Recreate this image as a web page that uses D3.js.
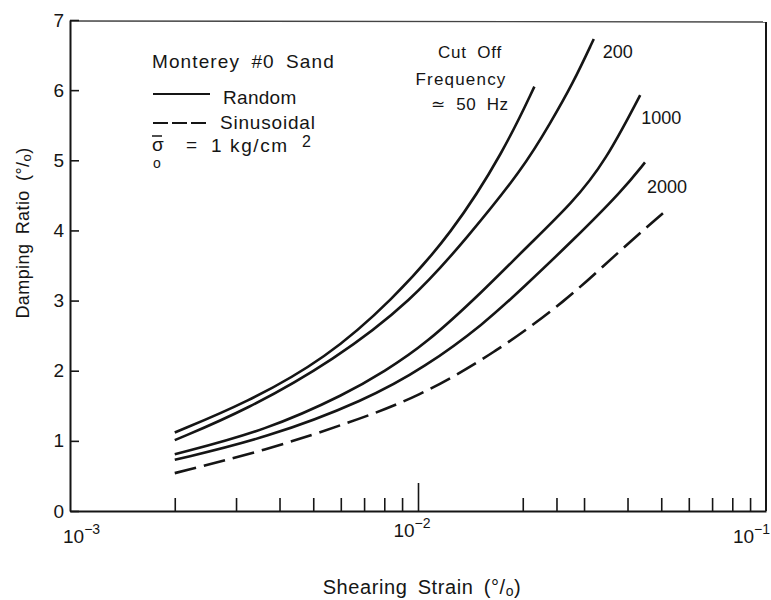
<!DOCTYPE html>
<html><head><meta charset="utf-8">
<script src="https://cdn.jsdelivr.net/npm/d3@7"></script>
<style>
body{margin:0;background:#fff}
text{font-family:"Liberation Sans",Arial,sans-serif;fill:#151515}
</style>
</head><body>
<svg id="c" width="771" height="600"></svg>
<script>
// ---------- data ----------
const xMajorTicks = [1e-3, 1e-2, 1e-1];
const xMajorExponents = ["−3", "−2", "−1"];
const xMinorTicks = [2e-3,3e-3,4e-3,5e-3,6e-3,7e-3,8e-3,9e-3,2e-2,2.5e-2,3e-2,4e-2,5e-2,6e-2,7e-2,8e-2,9e-2];
const yTicks = [0,1,2,3,4,5,6,7];

const curveLabels = ["50", "200", "1000", "2000", "Sinusoidal"];
// cut-off 50 Hz (random)
const strain50   = [0.002, 0.00321, 0.00546, 0.0084, 0.0125, 0.0177, 0.0216];
const damping50  = [1.12, 1.54, 2.18, 3.00, 3.95, 5.14, 6.05];
// cut-off 200 Hz (random)
const strain200  = [0.002, 0.00321, 0.00574, 0.00962, 0.01387, 0.0201, 0.0240, 0.0279, 0.0320];
const damping200 = [1.01, 1.44, 2.15, 3.00, 3.90, 4.89, 5.53, 6.10, 6.73];
// cut-off 1000 Hz (random)
const strain1000 = [0.002, 0.00367, 0.00627, 0.0080, 0.01047, 0.0155, 0.0201, 0.0279, 0.0346, 0.0435];
const damping1000= [0.81, 1.15, 1.68, 1.99, 2.37, 3.15, 3.72, 4.40, 4.99, 5.93];
// cut-off 2000 Hz (random)
const strain2000 = [0.002, 0.00367, 0.00708, 0.01047, 0.0155, 0.0201, 0.0279, 0.0387, 0.0449];
const damping2000= [0.73, 1.04, 1.58, 2.05, 2.67, 3.19, 3.86, 4.57, 4.97];
// sinusoidal
const strainSin  = [0.002, 0.00367, 0.00627, 0.0100, 0.0166, 0.0267, 0.0370, 0.0507];
const dampingSin = [0.54, 0.87, 1.25, 1.62, 2.25, 3.00, 3.66, 4.25];

// ---------- layout ----------
const svg = d3.select("#c");
const x = d3.scaleLog().domain([1e-3, 1e-1]).range([70, 766]);
const y = d3.scaleLinear().domain([0, 7]).range([511, 20]);
const ink = "#151515";

// frame: top and right
svg.append("line").attr("x1", x(1e-3)).attr("x2", x(1e-1)).attr("y1", y(7)+1).attr("y2", y(7)+2)
  .attr("stroke", "#444").attr("stroke-width", 1.3);
svg.append("line").attr("x1", x(1e-1)).attr("x2", x(1e-1)).attr("y1", y(7)+2).attr("y2", y(0))
  .attr("stroke", ink).attr("stroke-width", 2);

// y axis
const gy = svg.append("g").attr("transform", `translate(${x(1e-3)},0)`)
  .call(d3.axisLeft(y).tickValues(yTicks).tickSizeInner(-9).tickSizeOuter(0).tickPadding(6).tickFormat(d3.format("d")));
gy.select(".domain").attr("stroke", ink).attr("stroke-width", 2);
gy.selectAll(".tick line").attr("stroke", ink).attr("stroke-width", 1.6);
gy.selectAll(".tick text").attr("font-size", 19).attr("font-family", "Liberation Sans, Arial, sans-serif").attr("fill", ink);

// x axis minor
const gx = svg.append("g").attr("transform", `translate(0,${y(0)})`)
  .call(d3.axisBottom(x).tickValues(xMinorTicks).tickSizeInner(-13).tickSizeOuter(0).tickFormat(""));
gx.select(".domain").attr("stroke", ink).attr("stroke-width", 2);
gx.selectAll(".tick line").attr("stroke", ink).attr("stroke-width", 1.6);
// x axis major
const gx2 = svg.append("g").attr("transform", `translate(0,${y(0)})`)
  .call(d3.axisBottom(x).tickValues([1e-2]).tickSizeInner(-28).tickSizeOuter(0).tickFormat(""));
gx2.select(".domain").remove();
gx2.selectAll(".tick line").attr("stroke", ink).attr("stroke-width", 1.6);

// x major labels
xMajorTicks.forEach((v, i) => {
  const anchor = i === 0 ? "start" : (i === xMajorTicks.length - 1 ? "end" : "middle");
  const dx = i === 0 ? -7 : (i === xMajorTicks.length - 1 ? 4 : -6);
  const t = svg.append("text").attr("x", x(v) + dx).attr("y", i === 1 ? 537 : 543)
    .attr("text-anchor", anchor).attr("font-size", 19);
  t.append("tspan").text("10");
  t.append("tspan").attr("dy", -9).attr("font-size", 14).text(xMajorExponents[i]);
});

// axis titles
const xt = svg.append("text").attr("x", 422).attr("y", 594).attr("text-anchor", "middle")
  .attr("font-size", 20).attr("letter-spacing", 0.6).attr("word-spacing", 4);
xt.append("tspan").text("Shearing Strain  (°/");
xt.append("tspan").attr("font-size", 14).attr("dy", 2).text("o");
xt.append("tspan").attr("dy", -2).text(")");

const yt = svg.append("text").attr("transform", "translate(29,233) rotate(-90)").attr("text-anchor", "middle")
  .attr("font-size", 18).attr("letter-spacing", 0.4).attr("word-spacing", 4);
yt.append("tspan").text("Damping Ratio  (°/");
yt.append("tspan").attr("font-size", 13).attr("dy", 2).text("o");
yt.append("tspan").attr("dy", -2).text(")");

// curves
const series = [
  {name: curveLabels[0], s: strain50,   d: damping50,   dash: null},
  {name: curveLabels[1], s: strain200,  d: damping200,  dash: null},
  {name: curveLabels[2], s: strain1000, d: damping1000, dash: null},
  {name: curveLabels[3], s: strain2000, d: damping2000, dash: null},
  {name: curveLabels[4], s: strainSin,  d: dampingSin,  dash: "22,8"}
];
const line = d3.line().x(p => x(p[0])).y(p => y(p[1])).curve(d3.curveBasis);
series.forEach(sr => {
  const pts = sr.s.map((v, i) => [v, sr.d[i]]);
  svg.append("path").attr("d", line(pts)).attr("fill", "none").attr("stroke", ink)
    .attr("stroke-width", 2.6).attr("stroke-linecap", "butt")
    .attr("stroke-dasharray", sr.dash);
});

// curve labels at ends
const labelOffsets = {"200": [9, 19], "1000": [1, 29], "2000": [2, 31]};
series.slice(1, 4).forEach(sr => {
  const n = sr.s.length - 1;
  const off = labelOffsets[sr.name];
  svg.append("text").attr("x", x(sr.s[n]) + off[0]).attr("y", y(sr.d[n]) + off[1])
    .attr("font-size", 18).text(sr.name);
});
// 50 Hz label
const cutText = [["Cut Off", 470, 58, 0.8], ["Frequency", 461, 85, 1.2], ["≃ " + curveLabels[0] + " Hz", 470, 110, 0.6]];
cutText.forEach(c => {
  svg.append("text").attr("x", c[1]).attr("y", c[2]).attr("text-anchor", "middle")
    .attr("font-size", 17).attr("letter-spacing", c[3]).attr("word-spacing", 5).text(c[0]);
});

// legend
svg.append("text").attr("x", 152).attr("y", 68).attr("font-size", 19).attr("letter-spacing", 1.1).attr("word-spacing", 5).text("Monterey #0 Sand");
svg.append("line").attr("x1", 153).attr("x2", 210).attr("y1", 94).attr("y2", 94).attr("stroke", ink).attr("stroke-width", 2);
svg.append("text").attr("x", 223).attr("y", 104).attr("font-size", 19).attr("letter-spacing", 0.3).text("Random");
svg.append("line").attr("x1", 153).attr("x2", 208).attr("y1", 123).attr("y2", 123).attr("stroke", ink).attr("stroke-width", 2).attr("stroke-dasharray", "15,4");
svg.append("text").attr("x", 220).attr("y", 129).attr("font-size", 19).attr("letter-spacing", 0.8).text("Sinusoidal");
// sigma_o = 1 kg/cm^2
svg.append("line").attr("x1", 152).attr("x2", 162).attr("y1", 136).attr("y2", 136).attr("stroke", ink).attr("stroke-width", 1.5);
svg.append("text").attr("x", 152).attr("y", 151).attr("font-size", 19).text("σ");
svg.append("text").attr("x", 153).attr("y", 168).attr("font-size", 14).text("o");
svg.append("text").attr("x", 186).attr("y", 151).attr("font-size", 19).text("=");
svg.append("text").attr("x", 211).attr("y", 152).attr("font-size", 19).attr("letter-spacing", 1.6).text("1 kg/cm");
svg.append("text").attr("x", 302).attr("y", 147).attr("font-size", 16).text("2");
</script>
</body></html>
